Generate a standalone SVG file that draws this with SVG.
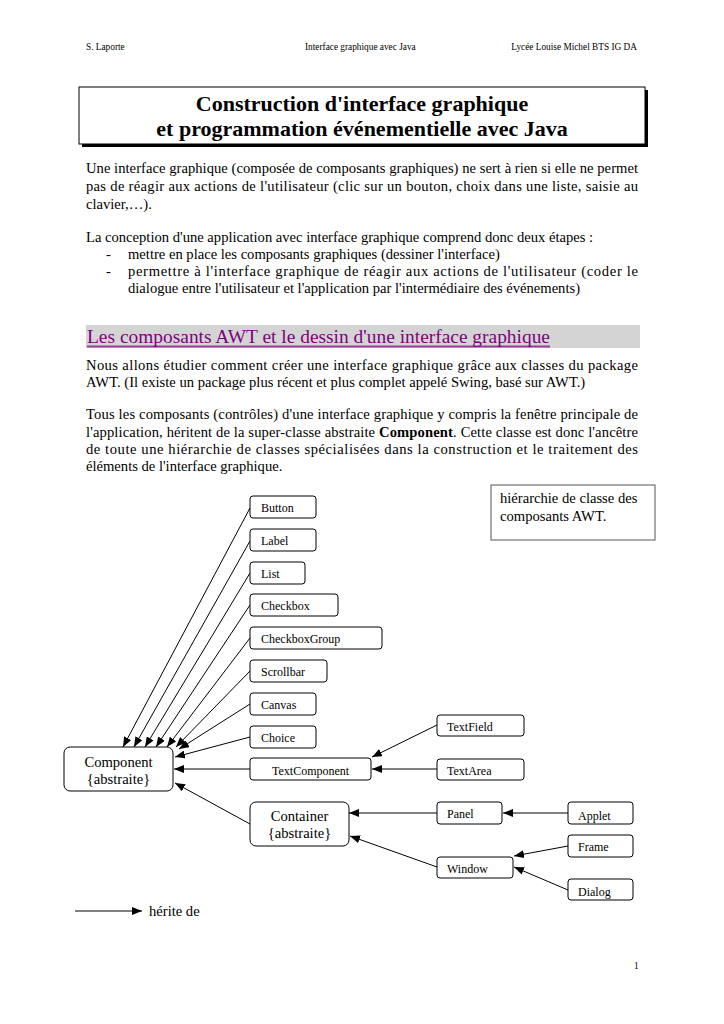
<svg xmlns="http://www.w3.org/2000/svg" width="724" height="1024" viewBox="0 0 724 1024">
<defs>
<style>
text{font-family:"Liberation Serif","Times New Roman",serif;fill:#000}
.hd{font-size:9.3px}
.b{font-size:14.6px}
.nb{fill:#fff;stroke:#000;stroke-width:1}
.nt{font-size:12px}
.ct{font-size:14.6px;text-anchor:middle}
.c{stroke:#000;stroke-width:1;fill:none;marker-end:url(#ah)}
</style>
<marker id="ah" markerUnits="userSpaceOnUse" markerWidth="10" markerHeight="8" refX="10" refY="4" orient="auto">
<path d="M0,0 L10,4 L0,8 z" fill="#000"/>
</marker>
</defs>
<rect width="724" height="1024" fill="#fff"/>
<g id="header">
<text class="hd" x="86" y="50">S. Laporte</text>
<text class="hd" x="305" y="50">Interface graphique avec Java</text>
<text class="hd" x="637" y="50" text-anchor="end">Lycée Louise Michel BTS IG DA</text>
</g>
<g id="title">
<rect x="82" y="90" width="566" height="57" fill="#000"/>
<rect x="79" y="87" width="566" height="57" fill="#fff" stroke="#000" stroke-width="1"/>
<text x="362" y="111" text-anchor="middle" font-size="22" font-weight="bold">Construction d'interface graphique</text>
<text x="362" y="136" text-anchor="middle" font-size="22" font-weight="bold">et programmation événementielle avec Java</text>
</g>
<g id="intro">
<text class="b" x="86" y="173" textLength="552" lengthAdjust="spacing">Une interface graphique (composée de composants graphiques) ne sert à rien si elle ne permet</text>
<text class="b" x="86" y="191" textLength="552" lengthAdjust="spacing">pas de réagir aux actions de l'utilisateur (clic sur un bouton, choix dans une liste, saisie au</text>
<text class="b" x="86" y="209">clavier,…).</text>
<text class="b" x="86" y="242">La conception d'une application avec interface graphique comprend donc deux étapes :</text>
<text class="b" x="106" y="259">-</text>
<text class="b" x="128" y="259">mettre en place les composants graphiques (dessiner l'interface)</text>
<text class="b" x="106" y="276">-</text>
<text class="b" x="128" y="276" textLength="510" lengthAdjust="spacing">permettre à l'interface graphique de réagir aux actions de l'utilisateur (coder le</text>
<text class="b" x="128" y="293">dialogue entre l'utilisateur et l'application par l'intermédiaire des événements)</text>
</g>
<g id="section">
<rect x="86" y="325" width="554" height="23" fill="#d4d4d4"/>
<text x="87" y="343" font-size="19.5" style="fill:#800080" textLength="463" lengthAdjust="spacingAndGlyphs">Les composants AWT et le dessin d'une interface graphique</text>
<rect x="87" y="345.5" width="463" height="2" fill="#800080" opacity="0.7"/>
</g>
<g id="body2">
<text class="b" x="86" y="370" textLength="552" lengthAdjust="spacing">Nous allons étudier comment créer une interface graphique grâce aux classes du package</text>
<text class="b" x="86" y="387">AWT. (Il existe un package plus récent et plus complet appelé Swing, basé sur AWT.)</text>
<text class="b" x="86" y="419" textLength="552" lengthAdjust="spacing">Tous les composants (contrôles) d'une interface graphique y compris la fenêtre principale de</text>
<text class="b" x="86" y="437" textLength="552" lengthAdjust="spacing">l'application, héritent de la super-classe abstraite <tspan font-weight="bold">Component</tspan>. Cette classe est donc l'ancêtre</text>
<text class="b" x="86" y="454" textLength="552" lengthAdjust="spacing">de toute une hiérarchie de classes spécialisées dans la construction et le traitement des</text>
<text class="b" x="86" y="471">éléments de l'interface graphique.</text>
</g>
<g id="legend-box">
<rect x="491" y="485" width="164" height="55" fill="#fff" stroke="#555" stroke-width="1"/>
<text class="b" x="500" y="503">hiérarchie de classe des</text>
<text class="b" x="500" y="521">composants AWT.</text>
</g>
<g id="connectors">
<line class="c" x1="250" y1="508" x2="123" y2="747"/>
<line class="c" x1="250" y1="541" x2="134" y2="747"/>
<line class="c" x1="250" y1="573" x2="145" y2="747"/>
<line class="c" x1="250" y1="605" x2="156" y2="747"/>
<line class="c" x1="250" y1="638" x2="167" y2="747"/>
<line class="c" x1="250" y1="671" x2="176" y2="747"/>
<line class="c" x1="250" y1="704" x2="179" y2="749"/>
<line class="c" x1="250" y1="737" x2="175" y2="757"/>
<line class="c" x1="250" y1="769" x2="174" y2="769"/>
<line class="c" x1="250" y1="824" x2="175" y2="783"/>
<line class="c" x1="437" y1="725" x2="372" y2="757"/>
<line class="c" x1="437" y1="769" x2="372" y2="769"/>
<line class="c" x1="437" y1="813" x2="349" y2="813"/>
<line class="c" x1="437" y1="867" x2="350" y2="836"/>
<line class="c" x1="568" y1="813" x2="503" y2="813"/>
<line class="c" x1="568" y1="846" x2="514" y2="856"/>
<line class="c" x1="568" y1="890" x2="514" y2="867"/>
</g>
<g id="Component"><rect class="nb" x="64" y="747" width="109" height="44" rx="6"/><text class="ct" x="118.5" y="767">Component</text><text class="ct" x="118.5" y="784">{abstraite}</text></g>
<g id="Container"><rect class="nb" x="250" y="802" width="99" height="44" rx="6"/><text class="ct" x="299.5" y="821">Container</text><text class="ct" x="299.5" y="838">{abstraite}</text></g>
<g id="Button"><rect class="nb" x="250" y="496" width="66" height="22" rx="3"/><text class="nt" x="261" y="512">Button</text></g>
<g id="Label"><rect class="nb" x="250" y="529" width="66" height="22" rx="3"/><text class="nt" x="261" y="545">Label</text></g>
<g id="List"><rect class="nb" x="250" y="562" width="55" height="22" rx="3"/><text class="nt" x="261" y="578">List</text></g>
<g id="Checkbox"><rect class="nb" x="250" y="594" width="88" height="22" rx="3"/><text class="nt" x="261" y="610">Checkbox</text></g>
<g id="CheckboxGroup"><rect class="nb" x="250" y="627" width="132" height="22" rx="3"/><text class="nt" x="261" y="643">CheckboxGroup</text></g>
<g id="Scrollbar"><rect class="nb" x="250" y="660" width="77" height="22" rx="3"/><text class="nt" x="261" y="676">Scrollbar</text></g>
<g id="Canvas"><rect class="nb" x="250" y="693" width="66" height="22" rx="3"/><text class="nt" x="261" y="709">Canvas</text></g>
<g id="Choice"><rect class="nb" x="250" y="726" width="66" height="22" rx="3"/><text class="nt" x="261" y="742">Choice</text></g>
<g id="TextComponent"><rect class="nb" x="250" y="758" width="121" height="22" rx="3"/><text class="nt" x="272" y="775">TextComponent</text></g>
<g id="TextField"><rect class="nb" x="437" y="715" width="87" height="21" rx="3"/><text class="nt" x="447" y="731">TextField</text></g>
<g id="TextArea"><rect class="nb" x="437" y="759" width="87" height="21" rx="3"/><text class="nt" x="447" y="775">TextArea</text></g>
<g id="Panel"><rect class="nb" x="437" y="802" width="65" height="22" rx="3"/><text class="nt" x="447" y="818">Panel</text></g>
<g id="Window"><rect class="nb" x="437" y="857" width="76" height="21" rx="3"/><text class="nt" x="447" y="873">Window</text></g>
<g id="Applet"><rect class="nb" x="568" y="802" width="65" height="22" rx="3"/><text class="nt" x="578" y="820">Applet</text></g>
<g id="Frame"><rect class="nb" x="568" y="835" width="65" height="22" rx="3"/><text class="nt" x="578" y="851">Frame</text></g>
<g id="Dialog"><rect class="nb" x="568" y="879" width="65" height="21" rx="3"/><text class="nt" x="578" y="896">Dialog</text></g>
<g id="legend">
<line class="c" x1="75" y1="911" x2="142" y2="911"/>
<text class="b" x="149" y="916">hérite de</text>
</g>
<g id="footer"><text class="hd" x="634" y="969">1</text></g>
</svg>
